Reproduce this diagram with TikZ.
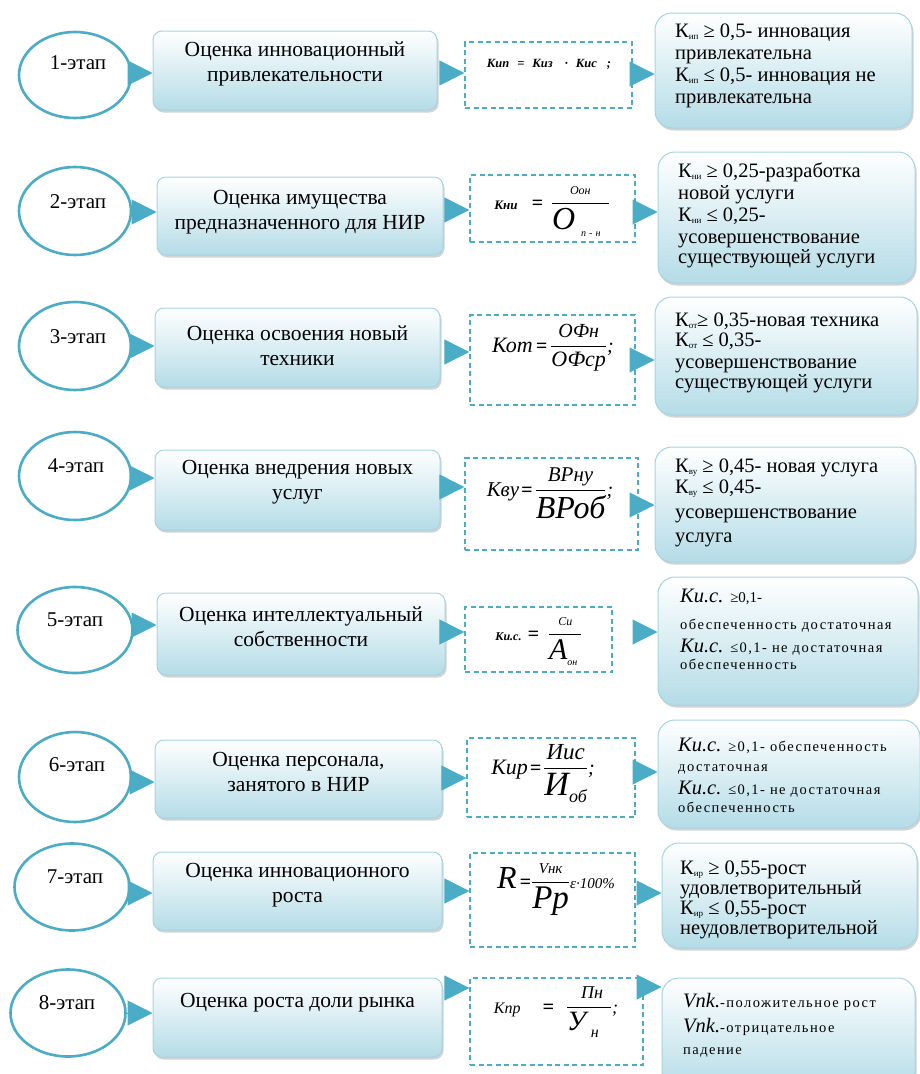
\documentclass[tikz,border=0pt]{standalone}
\usepackage{fontspec}
\setmainfont{Liberation Serif}
\newfontfamily\widefont[LetterSpace=10]{Liberation Serif}
\usepackage{graphicx}
\usetikzlibrary{shapes.geometric,arrows.meta,shadows}
\definecolor{tealc}{HTML}{4BACC6}
\definecolor{boxbot}{HTML}{B4DCE7}
\definecolor{boxline}{HTML}{A6D4E1}
\newcommand\fs[2]{\fontsize{#1}{#2}\selectfont}
\newcommand\mb[2]{\mbox{\fs{#1}{#1}\itshape #2}}
\newcommand\sbs[1]{\raisebox{-2pt}{\fs{9}{9}#1}}
\newcommand\smw{\widefont\fs{14.5}{16}}
\newcommand\eq{\mbox{\fs{20}{20}\bfseries =}}
\newcommand\fr[2]{{\displaystyle{#1\above 1.3pt #2}}}
\tikzset{
  ell/.style={ellipse, draw=tealc, line width=2.6pt, fill=white, inner sep=0pt},
  lbox/.style={rectangle, rounded corners=9pt, draw=boxline, line width=1pt,
    top color=white, bottom color=boxbot,
    drop shadow={shadow xshift=1.5pt, shadow yshift=-2.5pt, opacity=0.35}, inner sep=0pt},
  rbox/.style={lbox, rounded corners=17pt},
  fbox/.style={rectangle, draw=tealc, line width=1.3pt, dash pattern=on 5pt off 3.5pt,
    fill=white, inner sep=0pt},
  conn/.style={draw=tealc, line width=1pt, -{Triangle[length=25pt,width=25pt]}},
  etext/.style={font=\fs{21}{24}, inner sep=0pt},
  ltext/.style={font=\fs{21.5}{25}, align=center, anchor=north, inner sep=0pt},
  rtext/.style={font=\fs{20.5}{22}, align=left, anchor=north west, inner sep=0pt},
  ftext/.style={inner sep=0pt, anchor=base, font=\fs{20}{22}\itshape}
}
\begin{document}
\begin{tikzpicture}[x=1pt,y=-1pt]
\useasboundingbox (0,0) rectangle (920,1074);

% ---------- Row 1
\node[ell, minimum width=112pt, minimum height=86pt] (e1) at (75,75) {};
\node[etext] (et1) at (78,63) {1-этап};
\node[lbox, minimum width=284pt, minimum height=79pt] (b1) at (295,70.5) {};
\node[ltext] (bt1) at (295,39) {\strut Оценка инновационный\\привлекательности};
\node[fbox, minimum width=167pt, minimum height=66pt] (f1) at (548.5,75) {};
\node[ftext] (ft1) at (549,67) {\fs{12.5}{14}\bfseries Кип\hspace{8pt}=\hspace{8pt}Киз\hspace{12pt}·\hspace{8pt}Кис\hspace{10pt};};
\node[rbox, minimum width=257pt, minimum height=115pt] (r1) at (783.5,70.5) {};
\node[rtext] (rt1) at (675,22) {\strut К\sbs{ип} ≥ 0,5- инновация\\привлекательна\\К\sbs{ип} ≤ 0,5- инновация не\\привлекательна};
\draw[conn] (e1.east |- 0,73) -- (b1.west |- 0,73);
\draw[conn, shorten <=3pt] (b1.east |- 0,73) -- (f1.west |- 0,73);
\draw[conn] (f1.east |- 0,74) -- (r1.west |- 0,74);

% ---------- Row 2
\node[ell, minimum width=112pt, minimum height=88pt] (e2) at (75,211) {};
\node[etext] (et2) at (78,202) {2-этап};
\node[lbox, minimum width=286pt, minimum height=78pt] (b2) at (300,216) {};
\node[ltext] (bt2) at (300,187) {\strut Оценка имущества\\предназначенного для НИР};
\node[fbox, minimum width=165pt, minimum height=67pt] (f2) at (552.5,208.5) {};
\node[ftext] (ft2) at (552,209) {$\mb{13}{\bfseries Кни}\hspace{14pt}\eq\hspace{8pt}\fr{\mb{12}{Оон}}{\mbox{\fs{32}{32}\itshape О\hspace{6pt}\raisebox{-7pt}{\fs{10}{10}п\hspace{3pt}-\hspace{3pt}н}\hspace{8pt}}}$};
\node[rbox, minimum width=257pt, minimum height=131pt] (r2) at (786.5,217.5) {};
\node[rtext] (rt2) at (678,162) {\strut К\sbs{ни} ≥ 0,25-разработка\\новой услуги\\К\sbs{ни} ≤ 0,25-\\усовершенствование\\[-2pt]существующей услуги};
\draw[conn] (e2.east |- 0,212) -- (b2.west |- 0,212);
\draw[conn, shorten <=2pt] (b2.east |- 0,210) -- (f2.west |- 0,210);
\draw[conn] (f2.east |- 0,212) -- (r2.west |- 0,212);

% ---------- Row 3
\node[ell, minimum width=112pt, minimum height=88pt] (e3) at (75,346) {};
\node[etext] (et3) at (78,337) {3-этап};
\node[lbox, minimum width=285pt, minimum height=79pt] (b3) at (297.5,347.5) {};
\node[ltext] (bt3) at (297.5,323) {\strut Оценка освоения новый\\техники};
\node[fbox, minimum width=165pt, minimum height=90pt] (f3) at (552.5,360) {};
\node[ftext] (ft3) at (553,352) {$\mb{22}{Кот}\hspace{3pt}\eq\hspace{3pt}\fr{\mb{20}{ОФн}}{\mb{22}{ОФср}}$;};
\node[rbox, minimum width=262pt, minimum height=118pt] (r3) at (786,356) {};
\node[rtext] (rt3) at (675,311) {\strut К\sbs{от}≥ 0,35-новая техника\\[-2pt]К\sbs{от} ≤ 0,35-\\усовершенствование\\[-2pt]существующей услуги};
\draw[conn] (e3.east |- 0,346) -- (b3.west |- 0,346);
\draw[conn, shorten <=5pt] (b3.east |- 0,352) -- (f3.west |- 0,352);
\draw[conn] (f3.east |- 0,360) -- (r3.west |- 0,360);

% ---------- Row 4
\node[ell, minimum width=112pt, minimum height=88pt] (e4) at (75,476) {};
\node[etext] (et4) at (76,466) {4-этап};
\node[lbox, minimum width=285pt, minimum height=80pt] (b4) at (297.5,490) {};
\node[ltext] (bt4) at (297.5,457) {\strut Оценка внедрения новых\\услуг};
\node[fbox, minimum width=173pt, minimum height=92pt] (f4) at (551.5,504) {};
\node[ftext] (ft4) at (550,496) {$\mb{21}{Кву}\hspace{2pt}\eq\hspace{2pt}\fr{\mb{21}{ВРну}}{\mb{32}{ВРоб}}$\mb{20}{;}};
\node[rbox, minimum width=260pt, minimum height=115pt] (r4) at (785,504.5) {};
\node[rtext] (rt4) at (675,457) {\strut К\sbs{ву} ≥ 0,45- новая услуга\\[-1pt]К\sbs{ву} ≤ 0,45-\\[3pt]усовершенствование\\[2pt]услуга};
\draw[conn] (e4.east |- 0,478) -- (b4.west |- 0,478);
\draw[conn] (b4.east |- 0,487) -- (f4.west |- 0,487);
\draw[conn] (f4.east |- 0,505) -- (r4.west |- 0,505);

% ---------- Row 5
\node[ell, minimum width=115pt, minimum height=86pt] (e5) at (75,630) {};
\node[etext] (et5) at (75,620) {5-этап};
\node[lbox, minimum width=288pt, minimum height=82pt] (b5) at (301,634) {};
\node[ltext] (bt5) at (301,604) {\strut Оценка интеллектуальный\\собственности};
\node[fbox, minimum width=147pt, minimum height=65pt] (f5) at (538.5,639.5) {};
\node[ftext] (ft5) at (539,640) {$\mb{12}{\bfseries Ки.с.}\hspace{6pt}\eq\hspace{9pt}\fr{\mb{12}{Си}}{\mbox{\fs{30}{30}\itshape А\raisebox{-6pt}{\fs{10}{10}он}\hspace{4pt}}}$};
\node[rbox, minimum width=260pt, minimum height=128pt] (r5) at (788,641) {};
\node[rtext] (rt5) at (680,587) {\strut{\itshape Ки.с.} {\fs{15}{15}≥0,1-}\\[5pt]{\smw обеспеченность достаточная}\\[1pt]{\itshape Ки.с.} {\smw ≤0,1- не достаточная}\\[-5pt]{\smw обеспеченность}};
\draw[conn] (e5.east |- 0,625) -- (b5.west |- 0,625);
\draw[conn] (b5.east |- 0,632) -- (f5.west |- 0,632);
\draw[conn, shorten <=21pt] (f5.east |- 0,632) -- (r5.west |- 0,632);

% ---------- Row 6
\node[ell, minimum width=112pt, minimum height=90pt] (e6) at (75,777) {};
\node[etext] (et6) at (77,765) {6-этап};
\node[lbox, minimum width=287pt, minimum height=78pt] (b6) at (298.5,779) {};
\node[ltext] (bt6) at (298.5,749) {\strut Оценка персонала,\\занятого в НИР};
\node[fbox, minimum width=168pt, minimum height=79pt] (f6) at (551,777.5) {};
\node[ftext] (ft6) at (543,774) {$\mb{22}{Кир}\hspace{2pt}\eq\hspace{2pt}\fr{\mb{23}{Иис}}{\mbox{\fs{34}{34}\itshape И\raisebox{-7pt}{\fs{18}{18}об}}}$\mb{20}{;}};
\node[rbox, minimum width=262pt, minimum height=108pt] (r6) at (789,774) {};
\node[rtext] (rt6) at (678,736) {\strut{\itshape Ки.с.} {\smw ≥0,1- обеспеченность}\\[-2pt]{\smw достаточная}\\[1pt]{\itshape Ки.с.} {\smw ≤0,1- не достаточная}\\[-4pt]{\smw обеспеченность}};
\draw[conn] (e6.east |- 0,782) -- (b6.west |- 0,782);
\draw[conn] (b6.east |- 0,778) -- (f6.west |- 0,778);
\draw[conn] (f6.east |- 0,772) -- (r6.west |- 0,772);

% ---------- Row 7
\node[ell, minimum width=115pt, minimum height=87pt] (e7) at (72,887) {};
\node[etext] (et7) at (75,877) {7-этап};
\node[lbox, minimum width=289pt, minimum height=78pt] (b7) at (297.5,891) {};
\node[ltext] (bt7) at (297.5,860) {\strut Оценка инновационного\\роста};
\node[fbox, minimum width=165pt, minimum height=94pt] (f7) at (552.5,900) {};
\node[ftext] (ft7) at (556,888) {$\mb{32}{R}\hspace{3pt}\eq\fr{\mb{15}{Vнк}}{\mb{33}{Pp}}\mb{15}{ε·100\%}$};
\node[rbox, minimum width=255pt, minimum height=105pt] (r7) at (789.5,895.5) {};
\node[rtext] (rt7) at (680,859) {\strut К\sbs{ир} ≥ 0,55-рост\\[-2pt]удовлетворительный\\[-2pt]К\sbs{ир} ≤ 0,55-рост\\[-2pt]неудовлетворительной};
\draw[conn] (e7.east |- 0,893) -- (b7.west |- 0,893);
\draw[conn, shorten <=3pt] (b7.east |- 0,891) -- (f7.west |- 0,891);
\draw[conn, shorten <=2pt] (f7.east |- 0,893) -- (r7.west |- 0,893);

% ---------- Row 8
\node[ell, minimum width=115pt, minimum height=87pt] (e8) at (68,1013) {};
\node[etext] (et8) at (67,1003) {8-этап};
\node[lbox, minimum width=289pt, minimum height=79pt] (b8) at (297.5,1017.5) {};
\node[ltext] (bt8) at (297.5,990) {\strut Оценка роста доли рынка};
\node[fbox, minimum width=173pt, minimum height=87pt] (f8) at (556.5,1021.5) {};
\node[ftext] (ft8) at (556,1013) {$\mb{16}{Кпр}\hspace{22pt}\eq\hspace{12pt}\fr{\mb{18}{\hspace{6pt}Пн}}{\mbox{\fs{28}{28}\itshape У\hspace{5pt}\raisebox{-7pt}{\fs{16}{16}н}\hspace{12pt}}}$\mb{18}{;}};
\node[rbox, minimum width=253pt, minimum height=112pt] (r8) at (788.5,1034) {};
\node[rtext] (rt8) at (683,992) {\strut{\itshape Vnk.}{\smw -положительное рост}\\[3pt]{\itshape Vnk.}{\smw -отрицательное}\\{\smw падение}};
\draw[conn] (e8.east |- 0,1013) -- (b8.west |- 0,1013);
\draw[conn, shorten <=3pt] (b8.east |- 0,988) -- (f8.west |- 0,988);
\draw[conn] (f8.east |- 0,987) -- (r8.west |- 0,987);
\end{tikzpicture}
\end{document}
